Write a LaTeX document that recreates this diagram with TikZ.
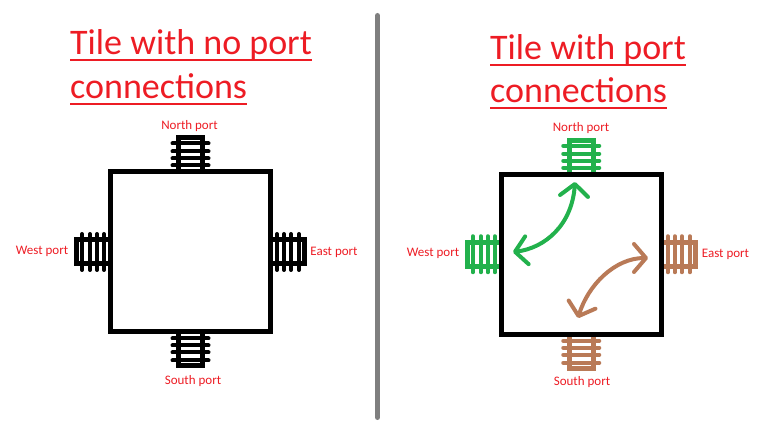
\documentclass[tikz,border=0pt]{standalone}
\usepackage{fontspec}
\setmainfont{Carlito}
\usetikzlibrary{arrows.meta}
\definecolor{pred}{HTML}{ED1C24}
\definecolor{pgreen}{HTML}{22B14C}
\definecolor{pbrown}{HTML}{B97A57}
\definecolor{pgray}{HTML}{7F7F7F}
\tikzset{
  tile/.style={draw=black, line width=5pt, minimum width=160pt, minimum height=160pt, inner sep=0pt, outer sep=0pt},
  title/.style={text=pred, font=\fontsize{36}{40}\selectfont, inner sep=0pt, anchor=base west},
  ul/.style={draw=pred, line width=2.6pt},
  plabel/.style={text=pred, font=\fontsize{13}{15}\selectfont, inner sep=0pt},
  divider/.style={draw=pgray, line width=5pt, line cap=round},
  conn/.style={line width=4pt, line cap=round, {Straight Barb[length=12pt, width=28pt, round]}-{Straight Barb[length=12pt, width=28pt, round]}},
  port/.pic={
    \draw[line width=5pt, line join=miter] (-12,0) -- (-12,-34) -- (12,-34) -- (12,0);
    \foreach \t in {6.5,13.5,20.5,28.5} \draw[line width=4pt, line cap=round] (-18,-\t) -- (18,-\t);
  }
}
\begin{document}
\begin{tikzpicture}[x=1pt, y=-1pt]
\useasboundingbox (0,0) rectangle (758,438);
% titles
\node[title] (t1) at (70,55) {Tile with no port};
\node[title] (t2) at (70,99) {connections};
\node[title] (t3) at (490,60) {Tile with port};
\node[title] (t4) at (490,103) {connections};
\foreach \n in {t1,t2,t3,t4}
  \draw[ul] ([yshift=-5.2pt]\n.base west) -- ([yshift=-5.2pt]\n.base east);
% divider
\coordinate (d1) at (377.5,15.5);
\coordinate (d2) at (377.5,417.5);
\draw[divider] (d1) -- (d2);
% left tile
\coordinate (Lc) at (190.5,252);
\pic[color=black] at (190.5,172) {port};
\pic[color=black, rotate=180] at (190.5,332) {port};
\pic[color=black, rotate=90] at (110.5,252) {port};
\pic[color=black, rotate=-90] at (270.5,252) {port};
\node[tile] (L) at (Lc) {};
\node[plabel] (Ln) at (189.5,126) {North port};
\node[plabel] (Ls) at (193,381) {South port};
\node[plabel] (Lw) at (42,251) {West port};
\node[plabel] (Le) at (334,252) {East port};
% right tile
\coordinate (Rc) at (581.25,254.25);
\pic[color=pgreen] at (581.25,174.25) {port};
\pic[color=pbrown, rotate=180] at (581.25,334.25) {port};
\pic[color=pgreen, rotate=90] at (501.25,254.25) {port};
\pic[color=pbrown, rotate=-90] at (661.25,254.25) {port};
\node[tile] (R) at (Rc) {};
\node[plabel] (Rn) at (581,128) {North port};
\node[plabel] (Rs) at (582,382) {South port};
\node[plabel] (Rw) at (433,253) {West port};
\node[plabel] (Re) at (725.5,254) {East port};
% connections
\coordinate (gA) at (575,182);
\coordinate (gB) at (513,252);
\coordinate (bA) at (648,258);
\coordinate (bB) at (578,318);
\draw[conn, pgreen] (gA) .. controls (572,225) and (545,248) .. (gB);
\draw[conn, pbrown] (bA) .. controls (615,258) and (588,285) .. (bB);
\end{tikzpicture}
\end{document}
